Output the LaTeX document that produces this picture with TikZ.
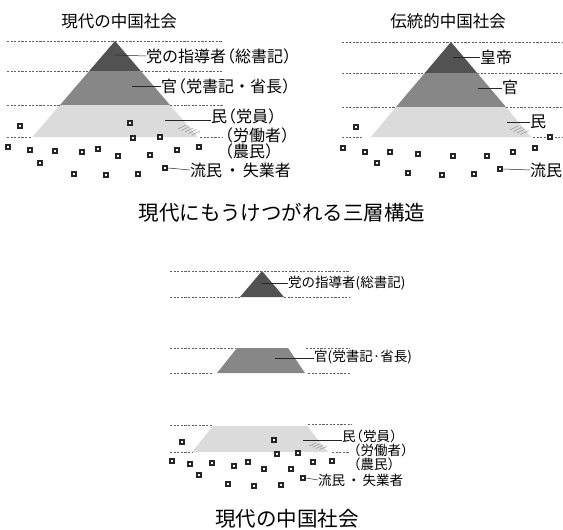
\documentclass[tikz,border=0pt]{standalone}
\usepackage{fontspec}
\newfontfamily\jp{Noto Sans CJK JP}
\newcommand{\lp}{\makebox[0.55em][r]{（}}
\newcommand{\rp}{\makebox[0.55em][l]{）}}
\newcommand{\ndot}{\hspace{0.15em}・\hspace{0.15em}}
\begin{document}
\begin{tikzpicture}[x=1pt,y=-1pt,
  dline/.style={draw=black!62,line width=0.6pt,dash pattern=on 2.2pt off 1.4pt},
  leader/.style={draw=black!85,line width=0.5pt},
  hatch/.style={draw=black!40,line width=0.6pt},
  sq/.style={rectangle,draw=black!85,fill=white,line width=2.1pt,minimum size=4.4pt,inner sep=0pt},
  labA/.style={font=\jp\fontsize{16}{16}\selectfont,inner sep=0pt,anchor=west},
  labB/.style={font=\jp\fontsize{13.5}{13.5}\selectfont,inner sep=0pt,anchor=west},
  ttl/.style={font=\jp\fontsize{16.5}{16.5}\selectfont,inner sep=0pt},
  captxt/.style={font=\jp\fontsize{20.5}{20.5}\selectfont,inner sep=0pt},
  darkc/.style={fill=black!68},
  midc/.style={fill=black!47},
  lightc/.style={fill=black!14}]
\useasboundingbox (0,0) rectangle (563,530);
\fill[white] (0,0) rectangle (563,530);

% ================= LEFT PANEL =================
\node[ttl] (tL) at (119,21) {現代の中国社会};
\fill[darkc] (115,41) -- (89.2,71) -- (140.8,71) -- cycle;
\fill[midc] (89.2,71) -- (140.8,71) -- (170,105) -- (60,105) -- cycle;
\fill[lightc] (60,105) -- (170,105) -- (197.6,137) -- (32.4,137) -- cycle;
\draw[dline] (7,41) -- (223,41);
\draw[dline] (7,71) -- (89,71);  \draw[dline] (141,71) -- (223,71);
\draw[dline] (7,105) -- (60,105); \draw[dline] (170,105) -- (223,105);
\draw[dline] (7,137) -- (31,137); \draw[dline] (200,137) -- (223,137);
\foreach \i in {0,...,4}{\draw[hatch] (178+3.5*\i,129+1.5*\i) -- (186+3.5*\i,125+1.5*\i);}

\coordinate (aL1) at (115,55);
\node[labA] (L1) at (146,56) {党の指導者\lp 総書記\rp};
\draw[leader] (aL1) -- (L1.west);
\coordinate (aL2) at (132,86);
\node[labA] (L2) at (161,86) {官\lp 党書記・省長\rp};
\draw[leader] (aL2) -- (L2.west);
\coordinate (aL3) at (165,120);
\node[labA] (L3) at (211,116) {民\lp 党員\rp};
\draw[leader] (aL3) -- (L3.west |- aL3);
\node[labA] (L4) at (224,135) {\lp 労働者\rp};
\node[labA] (L5) at (224,151) {\lp 農民\rp};

\foreach \n/\x/\y in {1/20/126,2/130/123,3/133/138,4/160/137,5/8/147,6/30/150,7/55/151,8/82/152,9/98/149,10/118/156,11/150/155,12/177/150,13/199/147,14/40/163,15/74/174,16/106/175,17/138/174,18/165/168}
  {\node[sq] (sL\n) at (\x,\y) {};}
\node[labA] (L6) at (190,170) {流民\ndot 失業者};
\draw[leader] (sL18.east) -- (L6.west);

% ================= RIGHT PANEL =================
\node[ttl] (tR) at (448,21) {伝統的中国社会};
\fill[darkc] (451,42) -- (424.8,73) -- (477.2,73) -- cycle;
\fill[midc] (424.8,73) -- (477.2,73) -- (506,107) -- (396,107) -- cycle;
\fill[lightc] (396,107) -- (506,107) -- (531,137) -- (371,137) -- cycle;
\draw[dline] (342,42) -- (562,42);
\draw[dline] (342,73) -- (425,73);  \draw[dline] (477,73) -- (562,73);
\draw[dline] (342,107) -- (396,107); \draw[dline] (506,107) -- (562,107);
\draw[dline] (342,137) -- (362,137); \draw[dline] (533,137) -- (562,137);
\foreach \i in {0,...,3}{\draw[hatch] (510+3.5*\i,130+1.5*\i) -- (518+3.5*\i,126+1.5*\i);}

\coordinate (aR1) at (453,57);
\node[labA] (R1) at (480,57) {皇帝};
\draw[leader] (aR1) -- (R1.west);
\coordinate (aR2) at (478,88);
\node[labA] (R2) at (502,87) {官};
\draw[leader] (aR2) -- (R2.west |- aR2);
\coordinate (aR3) at (507,122);
\node[labA] (R3) at (530,122) {民};
\draw[leader] (aR3) -- (R3.west);

\foreach \n/\x/\y in {1/356/127,2/550/137,3/343/148,4/365/152,5/390/152,6/418/154,7/453/156,8/487/156,9/513/152,10/535/148,11/377/163,12/408/173,13/442/175,14/474/174,15/500/169}
  {\node[sq] (sR\n) at (\x,\y) {};}
\node[labA] (R4) at (530,170) {流民};
\draw[leader] (sR15.east) -- (R4.west);

% ================= CAPTION =================
\node[captxt] (cap1) at (282,213) {現代にもうけつがれる三層構造};

% ================= BOTTOM PANEL =================
\fill[darkc] (262,271) -- (240,297) -- (284,297) -- cycle;
\fill[midc] (237,348) -- (288,348) -- (305,373) -- (217,373) -- cycle;
\fill[lightc] (213,426) -- (307,426) -- (328,452) -- (192,452) -- cycle;
\draw[dline] (170,271) -- (350,271);
\draw[dline] (170,297) -- (240,297); \draw[dline] (284,297) -- (350,297);
\draw[dline] (170,348) -- (235,348); \draw[dline] (306,348) -- (350,348);
\draw[dline] (170,373) -- (212,373); \draw[dline] (308,373) -- (350,373);
\draw[dline] (170,425) -- (213,425); \draw[dline] (308,424) -- (352,424);
\draw[dline] (170,452) -- (192,452); \draw[dline] (332,452) -- (350,452);
\foreach \i in {0,...,3}{\draw[hatch] (309+3.5*\i,446+1.2*\i) -- (316+3.5*\i,443+1.2*\i);}

\coordinate (aB1) at (262,283);
\node[labB] (B1) at (288,283) {党の指導者(総書記)};
\draw[leader] (aB1) -- (B1.west);
\coordinate (aB2) at (275,358);
\node[labB] (B2) at (314,357) {官(党書記·省長)};
\draw[leader] (aB2) -- (B2.west |- aB2);
\coordinate (aB3) at (303,440);
\node[labB] (B3) at (342,436) {民\lp 党員\rp};
\draw[leader] (aB3) -- (B3.west |- aB3);
\node[labB] (B4) at (353,450) {\lp 労働者\rp};
\node[labB] (B5) at (353,464) {\lp 農民\rp};

\foreach \n/\x/\y in {1/182/442,2/274/440,3/277/454,4/298/453,5/172/461,6/190/464,7/212/463,8/234/466,9/248/462,10/264/469,11/291/469,12/313/462,13/332/461,14/199/475,15/228/484,16/254/486,17/281/485,18/303/478}
  {\node[sq] (sB\n) at (\x,\y) {};}
\node[labB] (B6) at (318,480) {流民\ndot 失業者};
\draw[leader] (sB18.east) -- (B6.west);

\node[captxt] (cap2) at (287,519) {現代の中国社会};
\end{tikzpicture}
\end{document}
